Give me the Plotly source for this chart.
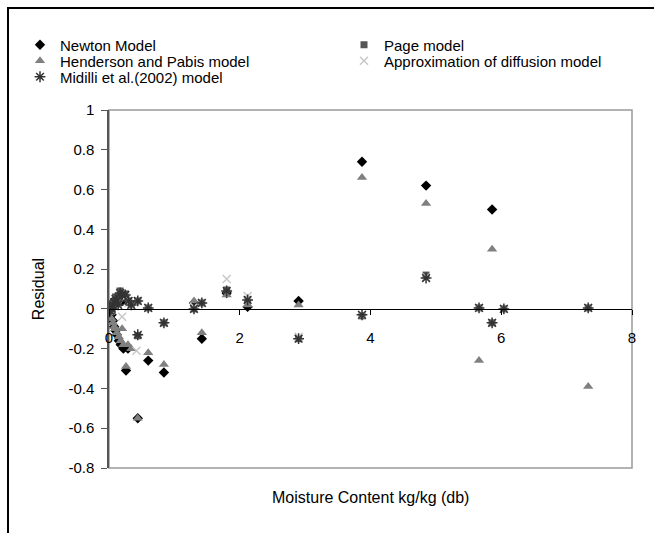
import plotly.graph_objects as go

# ---- data ----
newton_x = [0.02, 0.04, 0.05, 0.06, 0.08, 0.10, 0.10, 0.12, 0.15, 0.15, 0.18, 0.20, 0.22, 0.26, 0.29,
            0.44, 0.60, 0.84, 1.30, 1.42, 1.80, 2.12, 2.90, 3.87, 4.85, 5.86]
newton_y = [0.00, -0.03, 0.03, -0.06, -0.09, -0.11, 0.05, -0.13, -0.16, 0.06, -0.18, 0.04, -0.20, -0.31, -0.20,
            -0.55, -0.26, -0.32, 0.03, -0.15, 0.08, 0.01, 0.04, 0.74, 0.62, 0.50]

page_x = [0.02, 0.04, 0.06, 0.08, 0.10, 0.12, 0.14, 0.17, 0.20, 0.25, 0.30, 0.34, 0.44, 0.44,
          0.60, 0.84, 1.30, 1.42, 1.80, 2.12, 2.90, 3.87, 4.85, 5.66, 5.86, 6.04, 7.33]
page_y = [-0.01, 0.00, 0.02, 0.03, 0.06, 0.04, 0.025, 0.09, 0.07, 0.075, 0.04, 0.02, 0.04, -0.135,
          0.005, -0.07, 0.00, 0.03, 0.095, 0.045, -0.15, -0.035, 0.17, 0.005, -0.07, 0.00, 0.005]

henderson_x = [0.02, 0.04, 0.06, 0.08, 0.10, 0.10, 0.12, 0.15, 0.18, 0.20, 0.22, 0.26, 0.29, 0.34,
               0.44, 0.60, 0.84, 1.30, 1.42, 1.80, 2.12, 2.90, 3.87, 4.85, 5.66, 5.86, 7.33]
henderson_y = [-0.02, -0.05, -0.07, -0.09, -0.10, 0.02, -0.12, -0.14, -0.16, -0.10, -0.18, -0.29, -0.18, -0.20,
               -0.55, -0.22, -0.28, 0.04, -0.12, 0.07, 0.02, 0.02, 0.66, 0.53, -0.26, 0.30, -0.39]

approx_x = [0.02, 0.04, 0.06, 0.08, 0.10, 0.12, 0.14, 0.17, 0.20, 0.25, 0.30, 0.34, 0.42, 0.44,
            0.60, 0.84, 1.30, 1.42, 1.80, 2.12, 2.90, 3.87, 4.85, 5.66, 5.86, 6.04, 7.33]
approx_y = [-0.01, 0.00, 0.02, 0.03, 0.05, 0.03, 0.02, 0.08, -0.04, 0.06, 0.03, 0.02, -0.21, 0.04,
            0.005, -0.07, 0.01, 0.03, 0.15, 0.065, -0.14, -0.03, 0.16, 0.005, -0.07, 0.00, 0.005]

midilli_x = [0.02, 0.04, 0.06, 0.08, 0.10, 0.12, 0.14, 0.17, 0.20, 0.25, 0.30, 0.34, 0.44, 0.44,
             0.60, 0.84, 1.30, 1.42, 1.80, 2.12, 2.90, 3.87, 4.85, 5.66, 5.86, 6.04, 7.33]
midilli_y = [-0.01, 0.00, 0.02, 0.03, 0.05, 0.04, 0.02, 0.08, 0.07, 0.07, 0.04, 0.02, 0.04, -0.13,
             0.005, -0.07, 0.00, 0.03, 0.09, 0.045, -0.15, -0.03, 0.155, 0.005, -0.07, 0.00, 0.005]

x_ticks = [0, 2, 4, 6, 8]
y_ticks = [-0.8, -0.6, -0.4, -0.2, 0, 0.2, 0.4, 0.6, 0.8, 1]
y_tick_text = ["-0.8", "-0.6", "-0.4", "-0.2", "0", "0.2", "0.4", "0.6", "0.8", "1"]
y_min, y_max = -0.8, 1.0

FONT = "Arial, Liberation Sans, sans-serif"
W, H = 654, 533
ML, MR, MT, MB = 109, 22, 110, 65
PW, PH = W - ML - MR, H - MT - MB


def px_x(p):
    return (p - ML) / PW


def px_y(p):
    return 1 + (MT - p) / PH


fig = go.Figure()
fig.add_trace(go.Scatter(x=newton_x, y=newton_y, mode="markers", name="Newton Model", legend="legend",
                         marker=dict(symbol="diamond", size=8, color="#000000")))
fig.add_trace(go.Scatter(x=page_x, y=page_y, mode="markers", name="Page model", legend="legend2",
                         marker=dict(symbol="square", size=7, color="#555555")))
fig.add_trace(go.Scatter(x=henderson_x, y=henderson_y, mode="markers", name="Henderson and Pabis model",
                         legend="legend3",
                         marker=dict(symbol="triangle-up", size=9, color="#808080")))
fig.add_trace(go.Scatter(x=approx_x, y=approx_y, mode="markers", name="Approximation of diffusion model",
                         legend="legend4",
                         marker=dict(symbol="x-thin-open", size=8, color="#c8c8c8",
                                     line=dict(width=1.5, color="#c8c8c8"))))
fig.add_trace(go.Scatter(x=midilli_x, y=midilli_y, mode="markers", name="Midilli et al.(2002) model",
                         legend="legend5",
                         marker=dict(symbol="asterisk-open", size=9, color="#333333",
                                     line=dict(width=1.5, color="#333333"))))

zero_pos = (0 - y_min) / (y_max - y_min)

leg_common = dict(orientation="v", xanchor="left", yanchor="middle", itemwidth=30,
                  font=dict(family=FONT, size=15, color="#000000"), bgcolor="rgba(0,0,0,0)",
                  borderwidth=0)

col1, col2 = 20, 344
row1, row2, row3 = 45, 61, 77

fig.update_layout(
    width=W, height=H,
    margin=dict(l=ML, r=MR, t=MT, b=MB),
    paper_bgcolor="white", plot_bgcolor="white",
    font=dict(family=FONT, size=14, color="#000000"),
    showlegend=True,
    legend=dict(leg_common, x=px_x(col1), y=px_y(row1)),
    legend2=dict(leg_common, x=px_x(col2), y=px_y(row1)),
    legend3=dict(leg_common, x=px_x(col1), y=px_y(row2)),
    legend4=dict(leg_common, x=px_x(col2), y=px_y(row2)),
    legend5=dict(leg_common, x=px_x(col1), y=px_y(row3)),
    xaxis=dict(range=[0, 8], tickvals=x_ticks, ticktext=[str(v) for v in x_ticks],
               showgrid=False, zeroline=False, showline=True, linecolor="#000000", linewidth=1,
               ticks="outside", ticklen=5, tickcolor="#000000", ticklabelstandoff=10,
               tickfont=dict(size=15),
               anchor="free", position=zero_pos),
    yaxis=dict(range=[y_min, y_max], tickvals=y_ticks, ticktext=y_tick_text,
               showgrid=False, zeroline=False, showline=True, linecolor="#555555", linewidth=1.5,
               ticks="outside", ticklen=6, tickcolor="#555555", ticklabelstandoff=4,
               tickfont=dict(size=15),
               title=dict(text="Residual", standoff=20, font=dict(size=16))),
    annotations=[
        dict(text="Moisture Content kg/kg (db)", xref="paper", yref="paper",
             x=0.5, y=px_y(497), xanchor="center", yanchor="middle", showarrow=False,
             font=dict(family=FONT, size=16, color="#000000")),
    ],
    shapes=[
        dict(type="rect", xref="paper", yref="paper", x0=0, x1=1, y0=0, y1=1,
             line=dict(color="#999999", width=1.5), layer="below"),
        dict(type="rect", xref="paper", yref="paper", x0=px_x(8), x1=px_x(700), y0=px_y(600), y1=px_y(8),
             line=dict(color="#000000", width=2), layer="below"),
    ],
)

fig.write_html("out.html")
